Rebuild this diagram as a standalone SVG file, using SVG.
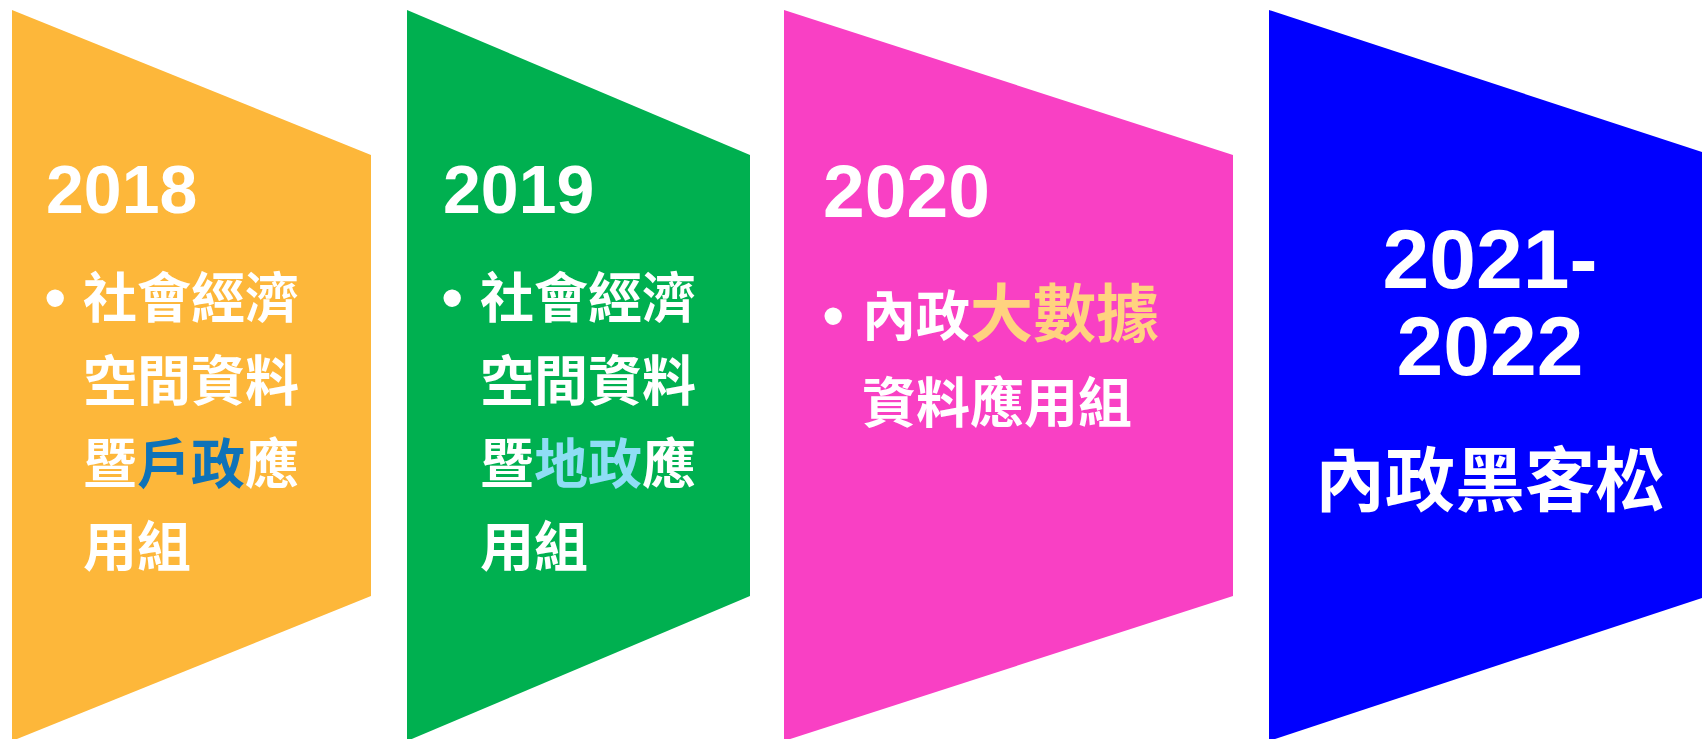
<svg xmlns="http://www.w3.org/2000/svg" width="1702" height="739" viewBox="0 0 1702 739">
<style>
.yr{font-family:"Liberation Sans",Arial,sans-serif;font-weight:bold;fill:#ffffff}
.bul{font-family:"Liberation Sans",Arial,sans-serif;font-size:64px;fill:#ffffff}
.cjk{font-family:"Noto Sans CJK TC","Noto Sans CJK SC",sans-serif;font-weight:bold;font-size:54px;fill:#ffffff}
</style>
<rect x="0" y="0" width="1702" height="739" fill="#ffffff"/>
<g id="node-2018">
<polygon points="12,10 371,155 371,596 12,741" fill="#FDB73A"/>
<text class="yr" x="46" y="213" font-size="68">2018</text>
<text class="bul" x="44" y="320">•</text>
<text class="cjk" x="83" y="318">社會經濟</text>
<text class="cjk" x="83" y="401">空間資料</text>
<text class="cjk" x="83" y="484">暨<tspan fill="#0E72B8">戶政</tspan>應</text>
<text class="cjk" x="83" y="567">用組</text>
</g>
<g id="node-2019">
<polygon points="407,10 750,155 750,596 407,741" fill="#00B050"/>
<text class="yr" x="443" y="213" font-size="68">2019</text>
<text class="bul" x="441" y="320">•</text>
<text class="cjk" x="480" y="318">社會經濟</text>
<text class="cjk" x="480" y="401">空間資料</text>
<text class="cjk" x="480" y="484">暨<tspan fill="#8FDDF5">地政</tspan>應</text>
<text class="cjk" x="480" y="567">用組</text>
</g>
<g id="node-2020">
<polygon points="784,10 1233,155 1233,596 784,741" fill="#F940C4"/>
<text class="yr" x="823" y="217" font-size="75">2020</text>
<text class="bul" x="822" y="338">•</text>
<text class="cjk" x="862" y="336">內政<tspan fill="#FFD27F" font-size="63">大數據</tspan></text>
<text class="cjk" x="862" y="423">資料應用組</text>
</g>
<g id="node-2021-2022">
<polygon points="1269,10 1702,152 1702,598 1269,741" fill="#0000FF"/>
<text class="yr" x="1490" y="288" font-size="84" text-anchor="middle">2021-</text>
<text class="yr" x="1490" y="375" font-size="84" text-anchor="middle">2022</text>
<text class="cjk" x="1490" y="506" text-anchor="middle" style="font-size:70px">內政黑客松</text>
</g>
<g id="connectors"></g>
</svg>
